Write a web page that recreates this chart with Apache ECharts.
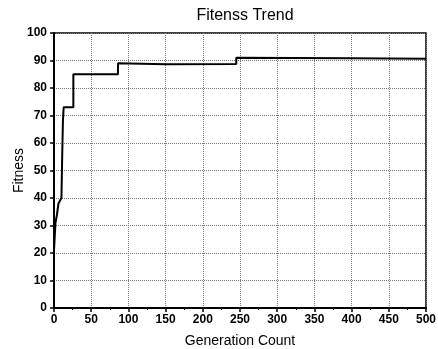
<!DOCTYPE html>
<html>
<head>
<meta charset="utf-8">
<script src="https://cdn.jsdelivr.net/npm/echarts@6/dist/echarts.min.js"></script>
<style>
  html, body { margin: 0; padding: 0; background: #fff; }
  #chart { width: 438px; height: 349px; }
</style>
</head>
<body>
<div id="chart"></div>
<script>
// generation / fitness pairs
const generations = [0, 1, 2, 4, 6, 8, 10, 11, 12, 13, 26, 26, 86, 86, 150, 245, 245, 400, 500];
const fitness = [21, 26, 31, 34, 38, 39, 40, 55, 68, 73, 73, 85, 85, 89, 88.6, 88.7, 91, 90.8, 90.6];
const xTicks = [0, 50, 100, 150, 200, 250, 300, 350, 400, 450, 500];
const yTicks = [0, 10, 20, 30, 40, 50, 60, 70, 80, 90, 100];

const chart = echarts.init(document.getElementById('chart'));
const font = 'Liberation Sans, Arial, sans-serif';

chart.setOption({
  animation: false,
  title: {
    text: 'Fitenss Trend',
    left: 240,
    top: 3,
    textAlign: 'center',
    textStyle: { fontFamily: font, fontSize: 16, fontWeight: 'normal', color: '#000' },
  },
  grid: {
    left: 54,
    right: 12,
    top: 33,
    bottom: 41,
    outerBoundsMode: 'none',
    containLabel: false,
    show: true,
    borderColor: '#000',
    borderWidth: 1.5,
  },
  xAxis: {
    type: 'value',
    min: xTicks[0],
    max: xTicks[xTicks.length - 1],
    interval: 50,
    name: 'Generation Count',
    nameLocation: 'middle',
    nameGap: 26,
    nameTextStyle: { fontFamily: font, fontSize: 14, color: '#000' },
    axisLine: { show: true, lineStyle: { color: '#000', width: 2 } },
    axisTick: { show: true, inside: false, length: 4, lineStyle: { color: '#000', width: 1.5 } },
    minorTick: { show: true, splitNumber: 2, length: 2, lineStyle: { color: '#000' } },
    axisLabel: { fontFamily: font, fontSize: 12, fontWeight: 'bold', color: '#000', margin: 6 },
    splitLine: { show: true, lineStyle: { color: '#777', type: 'dotted', width: 1 } },
  },
  yAxis: {
    type: 'value',
    min: yTicks[0],
    max: yTicks[yTicks.length - 1],
    interval: 10,
    name: 'Fitness',
    nameLocation: 'middle',
    nameGap: 28,
    nameMoveOverlap: false,
    nameTextStyle: { fontFamily: font, fontSize: 14, color: '#000' },
    axisLine: { show: true, lineStyle: { color: '#000', width: 2 } },
    axisTick: { show: true, inside: false, length: 4, lineStyle: { color: '#000', width: 1.5 } },
    axisLabel: { fontFamily: font, fontSize: 12, fontWeight: 'bold', color: '#000', margin: 7 },
    splitLine: { show: true, lineStyle: { color: '#777', type: 'dotted', width: 1 } },
  },
  series: [
    {
      type: 'line',
      data: generations.map((g, i) => [g, fitness[i]]),
      showSymbol: false,
      lineStyle: { color: '#000', width: 2 },
    },
  ],
});
</script>
</body>
</html>
